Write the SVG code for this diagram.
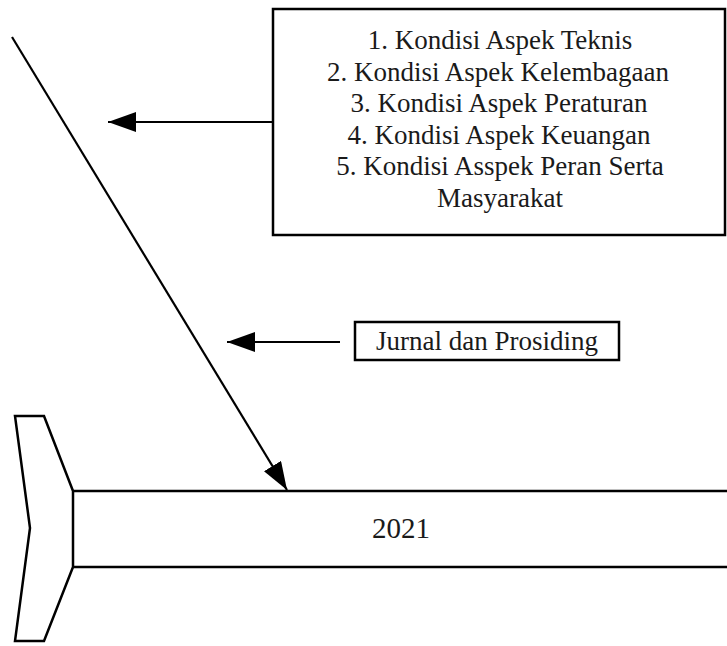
<svg xmlns="http://www.w3.org/2000/svg" width="727" height="646" viewBox="0 0 727 646">
  <style>
    .box { fill: #fff; stroke: #000; stroke-width: 2.5; }
    .line { fill: none; stroke: #000; stroke-width: 2.2; }
    .txt { font-family: "Liberation Serif", "Times New Roman", serif; font-size: 27px; fill: #1a1a1a; text-anchor: middle; }
  </style>
  <defs>
    <marker id="arrow" viewBox="0 0 28 20" refX="28" refY="10" markerWidth="28" markerHeight="20" markerUnits="userSpaceOnUse" orient="auto">
      <path d="M0,0 L28,10 L0,20 Z" fill="#000"/>
    </marker>
  </defs>

  <!-- timeline body -->
  <g id="timeline">
    <path class="box" d="M73,491 H730 V567 H73"/>
    <polygon class="box" points="15,416 44,416 73,491 73,567 44,641 15,641 30,528"/>
    <text class="txt" x="401" y="538" style="font-size:29px">2021</text>
  </g>

  <!-- factor list -->
  <g id="aspects">
    <rect class="box" x="273" y="9" width="452" height="226"/>
    <text class="txt" x="500" y="49">1. Kondisi Aspek Teknis</text>
    <text class="txt" x="498" y="81">2. Kondisi Aspek Kelembagaan</text>
    <text class="txt" x="499" y="112">3. Kondisi Aspek Peraturan</text>
    <text class="txt" x="499" y="144">4. Kondisi Aspek Keuangan</text>
    <text class="txt" x="500" y="175">5. Kondisi Asspek Peran Serta</text>
    <text class="txt" x="500" y="207">Masyarakat</text>
  </g>

  <!-- source label -->
  <g id="sources">
    <rect class="box" x="355" y="322" width="264" height="38"/>
    <text class="txt" x="487" y="350">Jurnal dan Prosiding</text>
  </g>

  <!-- connectors -->
  <g id="connectors">
    <line class="line" x1="12" y1="37" x2="287" y2="490" marker-end="url(#arrow)"/>
    <line class="line" x1="273" y1="122" x2="108" y2="122" marker-end="url(#arrow)"/>
    <line class="line" x1="340" y1="342" x2="227" y2="342" marker-end="url(#arrow)"/>
  </g>
</svg>
